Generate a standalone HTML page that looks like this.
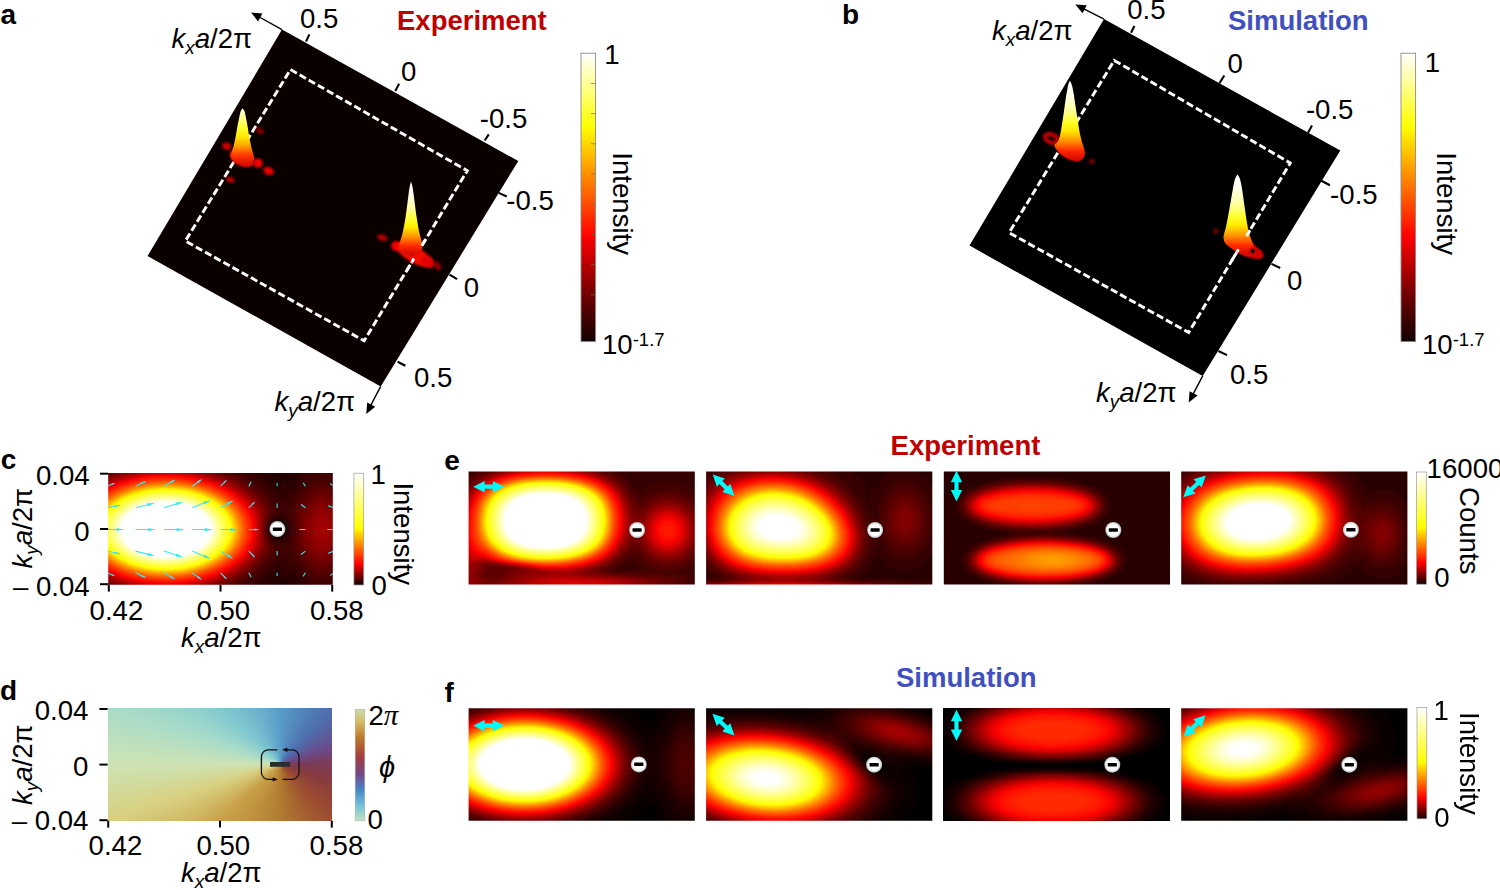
<!DOCTYPE html>
<html lang="en"><head><meta charset="utf-8"><title>Figure</title>
<style>html,body{margin:0;padding:0;background:#fff;}svg{display:block;}text{font-family:"Liberation Sans", Arial, sans-serif;}</style>
</head><body>
<div id="fig" style="position:relative;width:1500px;height:890px;overflow:hidden;background:#fff">
<div id="phase" style="position:absolute;left:107.6px;top:708.4px;width:224.8px;height:112.4px;background-color:#c9c596;background-image:conic-gradient(from 0deg at 172.6px 55.9px,#589cc8 0deg,#4d6fae 43deg,#6a4a88 72deg,#7b3a58 90deg,#8a3c3c 112deg,#9c4c30 137deg,#b07c30 180deg,#c8a048 227deg,#d8d080 252deg,#cde3b4 270deg,#a9dcc8 288deg,#80c8d0 313deg,#589cc8 360deg)"></div>
<svg width="1500" height="890" viewBox="0 0 1500 890" style="position:absolute;left:0;top:0">
<defs>
<filter id="hot2" x="0" y="0" width="1" height="1" color-interpolation-filters="sRGB">
<feComponentTransfer>
<feFuncR type="table" tableValues="0.000 0.164 0.329 0.493 0.658 0.822 0.987 1.000 1.000 1.000 1.000 1.000 1.000 1.000 1.000 1.000 1.000 1.000 1.000 1.000 1.000 1.000 1.000 1.000 1.000 1.000 1.000 1.000 1.000 1.000 1.000 1.000 1.000 1.000 1.000 1.000 1.000 1.000 1.000 1.000 1.000 1.000 1.000 1.000 1.000 1.000 1.000 1.000 1.000 1.000 1.000 1.000 1.000 1.000 1.000 1.000 1.000 1.000 1.000 1.000 1.000 1.000 1.000 1.000 1.000"/>
<feFuncG type="table" tableValues="0.000 0.000 0.000 0.000 0.000 0.000 0.000 0.090 0.188 0.285 0.383 0.480 0.578 0.676 0.773 0.871 0.969 1.000 1.000 1.000 1.000 1.000 1.000 1.000 1.000 1.000 1.000 1.000 1.000 1.000 1.000 1.000 1.000 1.000 1.000 1.000 1.000 1.000 1.000 1.000 1.000 1.000 1.000 1.000 1.000 1.000 1.000 1.000 1.000 1.000 1.000 1.000 1.000 1.000 1.000 1.000 1.000 1.000 1.000 1.000 1.000 1.000 1.000 1.000 1.000"/>
<feFuncB type="table" tableValues="0.000 0.000 0.000 0.000 0.000 0.000 0.000 0.000 0.000 0.000 0.000 0.000 0.000 0.000 0.000 0.000 0.000 0.043 0.107 0.171 0.235 0.298 0.362 0.426 0.490 0.554 0.617 0.681 0.745 0.809 0.872 0.936 1.000 1.000 1.000 1.000 1.000 1.000 1.000 1.000 1.000 1.000 1.000 1.000 1.000 1.000 1.000 1.000 1.000 1.000 1.000 1.000 1.000 1.000 1.000 1.000 1.000 1.000 1.000 1.000 1.000 1.000 1.000 1.000 1.000"/>
</feComponentTransfer></filter>
<filter id="hot2b" x="0" y="0" width="1" height="1" color-interpolation-filters="sRGB">
<feGaussianBlur stdDeviation="1.2"/>
<feComponentTransfer>
<feFuncR type="table" tableValues="0.000 0.164 0.329 0.493 0.658 0.822 0.987 1.000 1.000 1.000 1.000 1.000 1.000 1.000 1.000 1.000 1.000 1.000 1.000 1.000 1.000 1.000 1.000 1.000 1.000 1.000 1.000 1.000 1.000 1.000 1.000 1.000 1.000 1.000 1.000 1.000 1.000 1.000 1.000 1.000 1.000 1.000 1.000 1.000 1.000 1.000 1.000 1.000 1.000 1.000 1.000 1.000 1.000 1.000 1.000 1.000 1.000 1.000 1.000 1.000 1.000 1.000 1.000 1.000 1.000"/>
<feFuncG type="table" tableValues="0.000 0.000 0.000 0.000 0.000 0.000 0.000 0.090 0.188 0.285 0.383 0.480 0.578 0.676 0.773 0.871 0.969 1.000 1.000 1.000 1.000 1.000 1.000 1.000 1.000 1.000 1.000 1.000 1.000 1.000 1.000 1.000 1.000 1.000 1.000 1.000 1.000 1.000 1.000 1.000 1.000 1.000 1.000 1.000 1.000 1.000 1.000 1.000 1.000 1.000 1.000 1.000 1.000 1.000 1.000 1.000 1.000 1.000 1.000 1.000 1.000 1.000 1.000 1.000 1.000"/>
<feFuncB type="table" tableValues="0.000 0.000 0.000 0.000 0.000 0.000 0.000 0.000 0.000 0.000 0.000 0.000 0.000 0.000 0.000 0.000 0.000 0.043 0.107 0.171 0.235 0.298 0.362 0.426 0.490 0.554 0.617 0.681 0.745 0.809 0.872 0.936 1.000 1.000 1.000 1.000 1.000 1.000 1.000 1.000 1.000 1.000 1.000 1.000 1.000 1.000 1.000 1.000 1.000 1.000 1.000 1.000 1.000 1.000 1.000 1.000 1.000 1.000 1.000 1.000 1.000 1.000 1.000 1.000 1.000"/>
</feComponentTransfer></filter>
<linearGradient id="cbHot" x1="0" y1="0" x2="0" y2="1"><stop offset="0" stop-color="#ffffff"/><stop offset="0.254" stop-color="#ffff00"/><stop offset="0.635" stop-color="#ff0000"/><stop offset="0.85" stop-color="#6a0000"/><stop offset="1" stop-color="#120000"/></linearGradient>
<linearGradient id="cbHot2" x1="0" y1="0" x2="0" y2="1"><stop offset="0" stop-color="#ffffff"/><stop offset="0.49" stop-color="#ffff00"/><stop offset="0.81" stop-color="#ff0000"/><stop offset="1" stop-color="#140000"/></linearGradient>
<linearGradient id="cbPhase" x1="0" y1="0" x2="0" y2="1"><stop offset="0" stop-color="#c9dcaa"/><stop offset="0.10" stop-color="#d8bf6c"/><stop offset="0.25" stop-color="#bd7a2c"/><stop offset="0.42" stop-color="#a2403c"/><stop offset="0.58" stop-color="#75478a"/><stop offset="0.72" stop-color="#4685c4"/><stop offset="0.86" stop-color="#6fc0dc"/><stop offset="1" stop-color="#c4e4c0"/></linearGradient>
<linearGradient id="pk" x1="0" y1="0" x2="0" y2="1"><stop offset="0" stop-color="#ffffff"/><stop offset="0.16" stop-color="#fffff0"/><stop offset="0.36" stop-color="#ffffa0"/><stop offset="0.52" stop-color="#ffff28"/><stop offset="0.62" stop-color="#ffea00"/><stop offset="0.75" stop-color="#ff9000"/><stop offset="0.87" stop-color="#ff2800"/><stop offset="1" stop-color="#cc0400"/></linearGradient>
<linearGradient id="pk1" x1="0" y1="0" x2="0" y2="1"><stop offset="0" stop-color="#ffffd8"/><stop offset="0.15" stop-color="#ffff98"/><stop offset="0.33" stop-color="#ffff38"/><stop offset="0.5" stop-color="#ffe800"/><stop offset="0.66" stop-color="#ffa000"/><stop offset="0.82" stop-color="#ff3800"/><stop offset="1" stop-color="#d80800"/></linearGradient>
<radialGradient id="redglow"><stop offset="0" stop-color="#ff1800" stop-opacity="1"/><stop offset="0.6" stop-color="#e00000" stop-opacity="0.9"/><stop offset="1" stop-color="#700000" stop-opacity="0"/></radialGradient>
<radialGradient id="vm" cx="0.5" cy="0.5" r="0.5"><stop offset="0" stop-color="#fff"/><stop offset="0.7" stop-color="#fff"/><stop offset="0.86" stop-color="#d4dede"/><stop offset="1" stop-color="#b0b8b8"/></radialGradient>
<filter id="bl1" x="-0.5" y="-0.5" width="2" height="2"><feGaussianBlur stdDeviation="1"/></filter>
<filter id="bl2" x="-0.5" y="-0.5" width="2" height="2"><feGaussianBlur stdDeviation="1.8"/></filter>
<filter id="bl05" x="-0.2" y="-0.2" width="1.4" height="1.4"><feGaussianBlur stdDeviation="0.45"/></filter>
</defs>
<g id="panel-a">
<text x="0.5" y="24.3" font-size="28" font-weight="bold">a</text>
<polygon points="282.0,29.6 518.3,161.0 380.7,386.4 147.5,256.1" fill="#0b0000"/>
<line x1="282.0" y1="29.6" x2="258.4" y2="16.5" stroke="#000" stroke-width="1.4"/>
<polygon points="251.0,12.4 262.4,13.6 258.0,21.4" fill="#000"/>
<line x1="380.7" y1="386.4" x2="370.2" y2="406.4" stroke="#000" stroke-width="1.4"/>
<polygon points="366.3,413.9 367.2,402.5 375.2,406.7" fill="#000"/>
<polygon points="290.5,69.6 467.3,170.7 364.1,340.8 185.3,241" fill="none" stroke="#fff" stroke-width="2.9" stroke-dasharray="7.3 3.2"/>
<g id="peaks-a">
<ellipse cx="226.6" cy="146.2" rx="4.6" ry="3.6" fill="#d80000" opacity="0.95" transform="rotate(20 226.6 146.2)" filter="url(#bl1)"/>
<ellipse cx="260.0" cy="130.8" rx="4.2" ry="2.8" fill="#900000" opacity="0.9" transform="rotate(25 260.0 130.8)" filter="url(#bl1)"/>
<ellipse cx="258.0" cy="163.2" rx="4.6" ry="4.6" fill="#f00000" opacity="1" transform="rotate(0 258.0 163.2)" filter="url(#bl1)"/>
<ellipse cx="268.6" cy="171.0" rx="5.4" ry="4.0" fill="#e00000" opacity="1" transform="rotate(20 268.6 171.0)" filter="url(#bl1)"/>
<ellipse cx="230.3" cy="179.8" rx="4.4" ry="2.8" fill="#c00000" opacity="0.95" transform="rotate(20 230.3 179.8)" filter="url(#bl1)"/>
<ellipse cx="242.0" cy="158.0" rx="13.0" ry="8.0" fill="#f01000" opacity="1" transform="rotate(25 242.0 158.0)" filter="url(#bl1)"/>
<path d="M242.6,108.3 C242.9,108.8 244.0,110.1 244.5,111.3 C245.0,112.5 245.2,114.0 245.5,115.5 C245.8,117.0 246.2,118.7 246.5,120.5 C246.8,122.3 247.2,124.3 247.6,126.5 C248.0,128.7 248.3,131.2 248.7,133.5 C249.1,135.8 249.4,138.2 249.9,140.5 C250.4,142.8 250.9,145.5 251.4,147.5 C251.9,149.5 252.4,150.5 252.8,152.5 C253.2,154.5 254.9,157.4 253.8,159.5 C252.8,161.6 249.2,164.5 246.5,165.2 C243.8,165.9 240.1,164.8 237.5,163.5 C234.9,162.2 232.0,159.3 231.0,157.5 C230.0,155.7 231.2,154.2 231.6,152.5 C232.0,150.8 232.6,149.5 233.2,147.5 C233.8,145.5 234.4,142.8 234.9,140.5 C235.4,138.2 235.8,135.8 236.2,133.5 C236.6,131.2 237.0,128.7 237.4,126.5 C237.8,124.3 238.2,122.3 238.6,120.5 C239.0,118.7 239.2,117.0 239.6,115.5 C239.9,114.0 240.2,112.5 240.7,111.3 C241.2,110.1 242.3,108.8 242.6,108.3Z" fill="url(#pk1)" filter="url(#bl05)"/>
<ellipse cx="382.3" cy="237.7" rx="5.2" ry="3.2" fill="#c00000" opacity="0.9" transform="rotate(20 382.3 237.7)" filter="url(#bl1)"/>
<ellipse cx="396.0" cy="246.0" rx="5.0" ry="5.0" fill="#e80000" opacity="1" transform="rotate(0 396.0 246.0)" filter="url(#bl1)"/>
<ellipse cx="414.0" cy="254.5" rx="21.0" ry="8.0" fill="#f00800" opacity="1" transform="rotate(30 414.0 254.5)" filter="url(#bl1)"/>
<ellipse cx="428.0" cy="262.0" rx="7.0" ry="5.0" fill="#e00000" opacity="1" transform="rotate(35 428.0 262.0)" filter="url(#bl1)"/>
<ellipse cx="437.5" cy="266.0" rx="3.0" ry="4.5" fill="#a00000" opacity="0.9" transform="rotate(-20 437.5 266.0)" filter="url(#bl1)"/>
<path d="M411.0,181.4 C411.2,182.2 411.8,183.4 412.3,186.0 C412.8,188.6 413.3,192.0 414.0,197.2 C414.7,202.4 415.7,211.2 416.6,217.0 C417.5,222.8 418.3,227.7 419.2,232.0 C420.1,236.3 421.6,240.1 422.0,243.0 C422.4,245.9 423.0,247.4 421.6,249.5 C420.2,251.6 416.4,254.8 413.5,255.5 C410.6,256.2 406.9,254.8 404.5,253.5 C402.1,252.2 399.3,251.6 399.0,248.0 C398.7,244.4 401.7,237.2 402.8,232.0 C403.9,226.8 404.7,222.8 405.6,217.0 C406.5,211.2 407.5,202.4 408.2,197.2 C408.9,192.0 409.3,188.6 409.8,186.0 C410.3,183.4 410.8,182.2 411.0,181.4Z" fill="url(#pk)" filter="url(#bl05)"/>
<line x1="421.8" y1="245.7" x2="425.5" y2="239.5" stroke="#fff" stroke-width="2.9"/>
<line x1="406.5" y1="271" x2="414" y2="258.5" stroke="#fff" stroke-width="2.9" stroke-dasharray="7.3 3.2"/>
</g>
<line x1="306.0" y1="41.6" x2="309.4" y2="34.4" stroke="#000" stroke-width="2.1"/>
<line x1="395.3" y1="91.0" x2="399.1" y2="83.8" stroke="#000" stroke-width="2.1"/>
<line x1="484.7" y1="140.5" x2="488.8" y2="134.4" stroke="#000" stroke-width="2.1"/>
<line x1="498.7" y1="192.9" x2="506.8" y2="196.5" stroke="#000" stroke-width="2.1"/>
<line x1="449.5" y1="274.6" x2="457.1" y2="279.1" stroke="#000" stroke-width="2.1"/>
<line x1="397.6" y1="361.7" x2="405.4" y2="365.7" stroke="#000" stroke-width="2.1"/>
<text x="300.0" y="28.4" font-size="27.6">0.5</text>
<text x="401.0" y="81.1" font-size="27.6">0</text>
<text x="479.8" y="128.0" font-size="27.6">-0.5</text>
<text x="506.2" y="210.0" font-size="27.6">-0.5</text>
<text x="463.8" y="296.6" font-size="27.6">0</text>
<text x="414.0" y="387.2" font-size="27.6">0.5</text>
<text x="171.5" y="48.0" font-size="27.6"><tspan font-style="italic">k</tspan><tspan font-style="italic" font-size="18.8" dy="6.1">x</tspan><tspan font-style="italic" dy="-6.1">a</tspan>/2π</text>
<text x="274.5" y="411.0" font-size="27.6"><tspan font-style="italic">k</tspan><tspan font-style="italic" font-size="18.8" dy="6.1">y</tspan><tspan font-style="italic" dy="-6.1">a</tspan>/2π</text>
<text x="397.0" y="30.0" font-size="27.5" font-weight="bold" fill="#c00000">Experiment</text>
<rect x="581" y="53.2" width="14.6" height="288.4" fill="url(#cbHot)" stroke="#8a8a8a" stroke-width="0.9"/>
<line x1="591.0" y1="83.4" x2="595.6" y2="83.4" stroke="#7a6a40" stroke-width="0.7"/>
<line x1="591.0" y1="113.6" x2="595.6" y2="113.6" stroke="#7a6a40" stroke-width="0.7"/>
<line x1="591.0" y1="143.8" x2="595.6" y2="143.8" stroke="#7a6a40" stroke-width="0.7"/>
<line x1="591.0" y1="174.0" x2="595.6" y2="174.0" stroke="#7a6a40" stroke-width="0.7"/>
<line x1="591.0" y1="204.2" x2="595.6" y2="204.2" stroke="#7a6a40" stroke-width="0.7"/>
<line x1="591.0" y1="234.4" x2="595.6" y2="234.4" stroke="#7a6a40" stroke-width="0.7"/>
<line x1="591.0" y1="264.6" x2="595.6" y2="264.6" stroke="#7a6a40" stroke-width="0.7"/>
<line x1="591.0" y1="294.8" x2="595.6" y2="294.8" stroke="#7a6a40" stroke-width="0.7"/>
<text x="604.3" y="64.0" font-size="27.6">1</text>
<text x="602" y="354" font-size="27.6">10<tspan font-size="18.5" dy="-8">-1.7</tspan></text>
<text transform="translate(613.4,152.3) rotate(90)" font-size="27.6">Intensity</text>
</g>
<g id="panel-b">
<text x="842.0" y="24.3" font-size="28" font-weight="bold">b</text>
<polygon points="1104.0,19.1 1340.3,150.5 1202.7,375.9 969.5,245.6" fill="#000000"/>
<line x1="1104.0" y1="19.1" x2="1082.9" y2="8.4" stroke="#000" stroke-width="1.4"/>
<polygon points="1075.3,4.5 1086.7,5.2 1082.6,13.3" fill="#000"/>
<line x1="1202.7" y1="375.9" x2="1192.6" y2="395.1" stroke="#000" stroke-width="1.4"/>
<polygon points="1188.7,402.6 1189.6,391.2 1197.6,395.4" fill="#000"/>
<polygon points="1114.2,60.4 1290.2,163 1188.7,332.5 1009.1,232.7" fill="none" stroke="#fff" stroke-width="2.9" stroke-dasharray="7.3 3.2"/>
<g id="peaks-b">
<ellipse cx="1051.4" cy="138.6" rx="6.8" ry="4" fill="none" stroke="#c40000" stroke-width="4.2" transform="rotate(24 1051.4 138.6)" filter="url(#bl1)"/>
<ellipse cx="1091.8" cy="161.5" rx="2.8" ry="2.8" fill="#800000" opacity="0.95" transform="rotate(0 1091.8 161.5)" filter="url(#bl1)"/>
<ellipse cx="1070.0" cy="151.0" rx="14.0" ry="8.0" fill="#f00800" opacity="1" transform="rotate(28 1070.0 151.0)" filter="url(#bl1)"/>
<path d="M1069.9,80.8 C1070.2,81.3 1071.0,82.7 1071.5,84.1 C1072.0,85.5 1072.4,87.3 1072.8,89.1 C1073.2,90.9 1073.5,92.8 1073.9,95.1 C1074.3,97.4 1074.6,100.1 1075.1,103.1 C1075.5,106.1 1076.1,109.8 1076.6,113.1 C1077.1,116.4 1077.6,119.8 1078.1,123.1 C1078.6,126.4 1079.2,130.0 1079.8,133.1 C1080.4,136.2 1081.1,138.6 1081.9,141.7 C1082.7,144.8 1084.5,148.9 1084.8,151.6 C1085.1,154.3 1084.7,156.2 1083.6,157.8 C1082.5,159.4 1080.5,160.9 1078.2,161.2 C1075.9,161.4 1072.5,160.5 1069.6,159.3 C1066.7,158.1 1063.4,156.3 1060.9,154.1 C1058.4,151.9 1055.0,148.2 1054.5,146.0 C1054.0,143.8 1057.2,143.2 1058.2,141.1 C1059.2,138.9 1059.8,136.1 1060.5,133.1 C1061.2,130.1 1061.7,126.4 1062.2,123.1 C1062.7,119.8 1063.2,116.4 1063.7,113.1 C1064.2,109.8 1064.7,106.1 1065.1,103.1 C1065.5,100.1 1065.9,97.4 1066.3,95.1 C1066.7,92.8 1067.1,90.9 1067.4,89.1 C1067.8,87.3 1068.0,85.5 1068.4,84.1 C1068.8,82.7 1069.7,81.3 1069.9,80.8Z" fill="url(#pk)" filter="url(#bl05)"/>
<ellipse cx="1215.8" cy="231.1" rx="2.8" ry="2.8" fill="#700000" opacity="0.95" transform="rotate(0 1215.8 231.1)" filter="url(#bl1)"/>
<ellipse cx="1244.0" cy="247.0" rx="19.0" ry="7.5" fill="#e80400" opacity="1" transform="rotate(30 1244.0 247.0)" filter="url(#bl1)"/>
<path d="M1237.5,174.5 C1237.8,175.1 1238.9,176.4 1239.5,177.8 C1240.1,179.2 1240.5,181.0 1240.9,182.8 C1241.3,184.6 1241.6,186.5 1242.0,188.8 C1242.4,191.1 1242.8,193.8 1243.2,196.8 C1243.6,199.8 1244.1,203.5 1244.6,206.8 C1245.1,210.1 1245.5,213.5 1246.0,216.8 C1246.5,220.1 1247.1,223.7 1247.7,226.8 C1248.3,229.9 1248.8,232.3 1249.8,235.5 C1250.8,238.7 1252.5,242.9 1254.0,246.0 C1255.5,249.1 1260.2,252.3 1259.0,254.0 C1257.8,255.7 1251.1,256.9 1247.0,256.3 C1242.9,255.7 1238.2,252.5 1234.6,250.4 C1231.0,248.3 1227.3,245.6 1225.5,243.5 C1223.7,241.4 1223.9,239.4 1223.6,238.0 C1223.3,236.6 1223.5,236.7 1223.9,234.8 C1224.3,232.9 1225.3,229.8 1226.0,226.8 C1226.7,223.8 1227.4,220.1 1228.0,216.8 C1228.6,213.5 1229.2,210.1 1229.8,206.8 C1230.4,203.5 1231.0,199.8 1231.5,196.8 C1232.0,193.8 1232.5,191.1 1232.9,188.8 C1233.3,186.5 1233.6,184.6 1234.0,182.8 C1234.4,181.0 1234.9,179.2 1235.5,177.8 C1236.1,176.4 1237.2,175.1 1237.5,174.5Z" fill="url(#pk)" filter="url(#bl05)"/>
<ellipse cx="1256" cy="253" rx="8" ry="5" fill="#d00000" transform="rotate(30 1256 253)" filter="url(#bl05)"/>
<circle cx="1252.9" cy="251.2" r="2.1" fill="#100000"/>
<line x1="1246.5" y1="236" x2="1250" y2="230.2" stroke="#fff" stroke-width="2.9"/>
<line x1="1231.5" y1="261" x2="1238.5" y2="249.3" stroke="#fff" stroke-width="2.9" stroke-dasharray="7.3 3.2"/>
</g>
<line x1="1131.0" y1="32.8" x2="1134.4" y2="26.0" stroke="#000" stroke-width="2.1"/>
<line x1="1219.5" y1="83.1" x2="1224.3" y2="75.5" stroke="#000" stroke-width="2.1"/>
<line x1="1308.0" y1="132.7" x2="1312.0" y2="125.4" stroke="#000" stroke-width="2.1"/>
<line x1="1321.3" y1="180.8" x2="1329.9" y2="185.3" stroke="#000" stroke-width="2.1"/>
<line x1="1271.5" y1="263.9" x2="1280.2" y2="268.0" stroke="#000" stroke-width="2.1"/>
<line x1="1218.4" y1="351.0" x2="1227.0" y2="355.1" stroke="#000" stroke-width="2.1"/>
<text x="1127.2" y="18.9" font-size="27.6">0.5</text>
<text x="1227.5" y="72.8" font-size="27.6">0</text>
<text x="1305.9" y="119.2" font-size="27.6">-0.5</text>
<text x="1330.1" y="204.2" font-size="27.6">-0.5</text>
<text x="1286.9" y="289.6" font-size="27.6">0</text>
<text x="1230.0" y="384.0" font-size="27.6">0.5</text>
<text x="992.0" y="39.8" font-size="27.6"><tspan font-style="italic">k</tspan><tspan font-style="italic" font-size="18.8" dy="6.1">x</tspan><tspan font-style="italic" dy="-6.1">a</tspan>/2π</text>
<text x="1096.0" y="402.3" font-size="27.6"><tspan font-style="italic">k</tspan><tspan font-style="italic" font-size="18.8" dy="6.1">y</tspan><tspan font-style="italic" dy="-6.1">a</tspan>/2π</text>
<text x="1228.0" y="29.8" font-size="27.5" font-weight="bold" fill="#4050c0">Simulation</text>
<rect x="1401" y="53.2" width="14.6" height="288.4" fill="url(#cbHot)" stroke="#8a8a8a" stroke-width="0.9"/>
<text x="1424.8" y="72.0" font-size="27.6">1</text>
<text x="1422" y="354" font-size="27.6">10<tspan font-size="18.5" dy="-8">-1.7</tspan></text>
<text transform="translate(1437,152.3) rotate(90)" font-size="27.6">Intensity</text>
</g>
<g id="panel-c">
<text x="0.8" y="469.0" font-size="28" font-weight="bold">c</text>
<clipPath id="cpc"><rect x="108.2" y="473.1" width="224.6" height="111.7"/></clipPath>
<g clip-path="url(#cpc)"><g filter="url(#hot2)">
<rect x="105.2" y="470.1" width="230.6" height="117.7" fill="rgb(3,3,3)"/>
<ellipse cx="166.0" cy="529.5" rx="147.7" ry="90.2" fill="url(#g0)"/>
<ellipse cx="322.0" cy="529.5" rx="67.6" ry="119.6" fill="url(#g1)"/>
<ellipse cx="277.4" cy="529.3" rx="33.8" ry="33.8" fill="url(#g2)"/>
</g></g>
<line x1="100.0" y1="473.7" x2="108.2" y2="473.7" stroke="#000" stroke-width="2"/>
<line x1="100.0" y1="529.0" x2="108.2" y2="529.0" stroke="#000" stroke-width="2"/>
<line x1="100.0" y1="584.2" x2="108.2" y2="584.2" stroke="#000" stroke-width="2"/>
<line x1="108.8" y1="584.8" x2="108.8" y2="591.6" stroke="#000" stroke-width="2"/>
<line x1="220.5" y1="584.8" x2="220.5" y2="591.6" stroke="#000" stroke-width="2"/>
<line x1="332.2" y1="584.8" x2="332.2" y2="591.6" stroke="#000" stroke-width="2"/>
<clipPath id="cpq"><rect x="108.2" y="473.1" width="224.6" height="111.7"/></clipPath>
<g stroke="#3ce6f0" stroke-width="1.1" fill="#3ce6f0" clip-path="url(#cpq)">
<line x1="107.3" y1="486.2" x2="114.5" y2="483.2"/>
<polygon stroke="none" points="114.5,483.2 111.9,485.1 111.3,483.7"/>
<line x1="107.3" y1="507.8" x2="120.0" y2="505.2"/>
<polygon stroke="none" points="120.0,505.2 115.2,507.5 114.7,505.0"/>
<line x1="107.3" y1="529.5" x2="122.9" y2="529.5"/>
<polygon stroke="none" points="122.9,529.5 116.6,531.1 116.6,528.0"/>
<line x1="107.3" y1="551.1" x2="120.0" y2="553.9"/>
<polygon stroke="none" points="120.0,553.9 114.7,554.1 115.2,551.5"/>
<line x1="107.3" y1="572.8" x2="114.5" y2="575.8"/>
<polygon stroke="none" points="114.5,575.8 111.3,575.3 111.9,573.9"/>
<line x1="135.6" y1="486.2" x2="145.5" y2="481.4"/>
<polygon stroke="none" points="145.5,481.4 142.0,484.3 141.0,482.4"/>
<line x1="135.6" y1="507.8" x2="153.7" y2="503.3"/>
<polygon stroke="none" points="153.7,503.3 147.8,506.4 147.0,503.3"/>
<line x1="135.6" y1="529.5" x2="154.8" y2="529.5"/>
<polygon stroke="none" points="154.8,529.5 148.3,531.2 148.3,527.9"/>
<line x1="135.6" y1="551.1" x2="153.7" y2="555.8"/>
<polygon stroke="none" points="153.7,555.8 147.0,555.8 147.8,552.6"/>
<line x1="135.6" y1="572.8" x2="145.4" y2="577.6"/>
<polygon stroke="none" points="145.4,577.6 141.0,576.7 142.0,574.7"/>
<line x1="163.9" y1="486.2" x2="174.7" y2="480.0"/>
<polygon stroke="none" points="174.7,480.0 171.0,483.5 169.7,481.4"/>
<line x1="163.9" y1="507.8" x2="182.2" y2="502.1"/>
<polygon stroke="none" points="182.2,502.1 176.5,505.6 175.5,502.5"/>
<line x1="163.9" y1="529.5" x2="183.1" y2="529.6"/>
<polygon stroke="none" points="183.1,529.6 176.6,531.2 176.6,527.9"/>
<line x1="163.9" y1="551.1" x2="182.2" y2="557.0"/>
<polygon stroke="none" points="182.2,557.0 175.5,556.6 176.5,553.5"/>
<line x1="163.9" y1="572.8" x2="174.6" y2="579.1"/>
<polygon stroke="none" points="174.6,579.1 169.7,577.6 171.0,575.5"/>
<line x1="192.2" y1="486.2" x2="201.4" y2="479.6"/>
<polygon stroke="none" points="201.4,479.6 198.4,483.2 197.0,481.3"/>
<line x1="192.2" y1="507.8" x2="210.0" y2="500.6"/>
<polygon stroke="none" points="210.0,500.6 204.6,504.6 203.3,501.5"/>
<line x1="192.2" y1="529.5" x2="211.4" y2="529.6"/>
<polygon stroke="none" points="211.4,529.6 204.9,531.2 204.9,527.9"/>
<line x1="192.2" y1="551.1" x2="209.9" y2="558.5"/>
<polygon stroke="none" points="209.9,558.5 203.3,557.5 204.6,554.5"/>
<line x1="192.2" y1="572.8" x2="201.4" y2="579.4"/>
<polygon stroke="none" points="201.4,579.4 197.0,577.7 198.4,575.9"/>
<line x1="220.5" y1="486.2" x2="226.4" y2="480.3"/>
<polygon stroke="none" points="226.4,480.3 224.6,483.3 223.4,482.1"/>
<line x1="220.5" y1="507.8" x2="232.6" y2="500.9"/>
<polygon stroke="none" points="232.6,500.9 228.4,504.9 227.0,502.5"/>
<line x1="220.5" y1="529.5" x2="237.2" y2="529.6"/>
<polygon stroke="none" points="237.2,529.6 230.6,531.2 230.7,527.9"/>
<line x1="220.5" y1="551.1" x2="232.5" y2="558.2"/>
<polygon stroke="none" points="232.5,558.2 227.0,556.6 228.4,554.2"/>
<line x1="220.5" y1="572.8" x2="226.3" y2="578.7"/>
<polygon stroke="none" points="226.3,578.7 223.4,576.9 224.6,575.8"/>
<line x1="248.8" y1="486.2" x2="251.2" y2="481.7"/>
<line x1="248.8" y1="507.8" x2="254.6" y2="502.1"/>
<polygon stroke="none" points="254.6,502.1 252.8,505.0 251.7,503.8"/>
<line x1="248.8" y1="529.5" x2="258.4" y2="529.6"/>
<polygon stroke="none" points="258.4,529.6 254.6,530.5 254.6,528.6"/>
<line x1="248.8" y1="551.1" x2="254.5" y2="557.0"/>
<polygon stroke="none" points="254.5,557.0 251.7,555.2 252.8,554.1"/>
<line x1="248.8" y1="572.8" x2="251.2" y2="577.3"/>
<line x1="277.1" y1="486.2" x2="277.1" y2="483.1"/>
<line x1="277.1" y1="507.8" x2="277.1" y2="503.6"/>
<line x1="277.1" y1="551.1" x2="277.1" y2="555.4"/>
<line x1="277.1" y1="572.8" x2="277.1" y2="575.9"/>
<line x1="305.4" y1="486.2" x2="303.1" y2="482.7"/>
<line x1="305.4" y1="507.8" x2="301.1" y2="504.5"/>
<line x1="305.4" y1="529.5" x2="299.4" y2="529.5"/>
<polygon stroke="none" points="299.4,529.5 301.8,528.9 301.8,530.1"/>
<line x1="305.4" y1="551.1" x2="301.1" y2="554.5"/>
<line x1="305.4" y1="572.8" x2="303.1" y2="576.4"/>
<line x1="333.7" y1="486.2" x2="330.1" y2="483.5"/>
<line x1="333.7" y1="507.8" x2="328.3" y2="505.8"/>
<polygon stroke="none" points="328.3,505.8 330.6,506.1 330.2,507.2"/>
<line x1="333.7" y1="529.5" x2="327.3" y2="529.5"/>
<polygon stroke="none" points="327.3,529.5 329.9,528.9 329.9,530.1"/>
<line x1="333.7" y1="551.1" x2="328.3" y2="553.3"/>
<polygon stroke="none" points="328.3,553.3 330.2,551.9 330.7,553.0"/>
<line x1="333.7" y1="572.8" x2="330.1" y2="575.6"/>
</g>
<circle cx="277.4" cy="529.1" r="8.0" fill="url(#vm)"/>
<rect x="272.8" y="527.4" width="9.2" height="3.5" rx="0.6" fill="#000"/>
<text x="89.6" y="485.0" font-size="27.6" text-anchor="end">0.04</text>
<text x="89.6" y="541.0" font-size="27.6" text-anchor="end">0</text>
<text x="89.6" y="595.8" font-size="27.6" text-anchor="end">– 0.04</text>
<text x="89.6" y="620.3" font-size="27.6">0.42</text>
<text x="196.4" y="620.3" font-size="27.6">0.50</text>
<text x="310.0" y="620.3" font-size="27.6">0.58</text>
<text x="181.0" y="647.0" font-size="27.6"><tspan font-style="italic">k</tspan><tspan font-style="italic" font-size="18.8" dy="6.1">x</tspan><tspan font-style="italic" dy="-6.1">a</tspan>/2π</text>
<text x="0.0" y="0.0" font-size="27.6" transform="translate(32.3,568.5) rotate(-90)"><tspan font-style="italic">k</tspan><tspan font-style="italic" font-size="18.8" dy="6.1">y</tspan><tspan font-style="italic" dy="-6.1">a</tspan>/2π</text>
<rect x="353.9" y="473.2" width="9.8" height="111.8" fill="url(#cbHot2)" stroke="#9a9a9a" stroke-width="0.7"/>
<text x="370.6" y="483.6" font-size="27.6">1</text>
<text x="371.6" y="595.4" font-size="27.6">0</text>
<text transform="translate(393.6,482.4) rotate(90)" font-size="27.6">Intensity</text>
</g>
<g id="panel-d">
<text x="0.0" y="700.0" font-size="28" font-weight="bold">d</text>
<line x1="99.4" y1="709.0" x2="107.6" y2="709.0" stroke="#000" stroke-width="2"/>
<line x1="99.4" y1="764.6" x2="107.6" y2="764.6" stroke="#000" stroke-width="2"/>
<line x1="99.4" y1="820.2" x2="107.6" y2="820.2" stroke="#000" stroke-width="2"/>
<line x1="108.2" y1="820.8" x2="108.2" y2="827.6" stroke="#000" stroke-width="2"/>
<line x1="220.0" y1="820.8" x2="220.0" y2="827.6" stroke="#000" stroke-width="2"/>
<line x1="331.8" y1="820.8" x2="331.8" y2="827.6" stroke="#000" stroke-width="2"/>
<rect x="270" y="762" width="20.2" height="4.8" fill="#2c2c2c"/>
<g fill="none" stroke="#111" stroke-width="1.3">
<path d="M282.6,779.4 H292 a7,7 0 0 0 7,-7 V756.8 a7,7 0 0 0 -7,-7 H286"/>
<path d="M277.4,749.8 H268.4 a7,7 0 0 0 -7,7 V772.4 a7,7 0 0 0 7,7 H274"/>
</g>
<polygon points="282,749.8 287.4,747.6 287.4,752" fill="#111"/>
<polygon points="278,779.4 272.6,777.2 272.6,781.6" fill="#111"/>
<text x="88.4" y="719.6" font-size="27.6" text-anchor="end">0.04</text>
<text x="88.4" y="775.6" font-size="27.6" text-anchor="end">0</text>
<text x="88.4" y="830.3" font-size="27.6" text-anchor="end">– 0.04</text>
<text x="88.6" y="855.2" font-size="27.6">0.42</text>
<text x="196.4" y="855.2" font-size="27.6">0.50</text>
<text x="309.6" y="855.2" font-size="27.6">0.58</text>
<text x="181.0" y="882.0" font-size="27.6"><tspan font-style="italic">k</tspan><tspan font-style="italic" font-size="18.8" dy="6.1">x</tspan><tspan font-style="italic" dy="-6.1">a</tspan>/2π</text>
<text x="0.0" y="0.0" font-size="27.6" transform="translate(32.0,805.0) rotate(-90)"><tspan font-style="italic">k</tspan><tspan font-style="italic" font-size="18.8" dy="6.1">y</tspan><tspan font-style="italic" dy="-6.1">a</tspan>/2π</text>
<rect x="355.2" y="709.6" width="9.6" height="111.2" fill="url(#cbPhase)" stroke="#aab0a0" stroke-width="0.6"/>
<text x="368.4" y="725.3" font-size="27.6">2<tspan font-family='"Liberation Serif", "DejaVu Serif", serif' font-style="italic" font-size="29">π</tspan></text>
<text x="379" y="776.5" font-size="29" font-family='"Liberation Serif", "DejaVu Serif", serif' font-style="italic">ϕ</text>
<text x="367.6" y="828.7" font-size="27.6">0</text>
</g>
<g id="panel-e">
<text x="444.2" y="469.6" font-size="28" font-weight="bold">e</text>
<text x="890.6" y="454.8" font-size="27.5" font-weight="bold" fill="#c00000">Experiment</text>
<clipPath id="cpe1"><rect x="468.6" y="471.5" width="226.2" height="113.0"/></clipPath>
<g clip-path="url(#cpe1)"><g filter="url(#hot2b)">
<rect x="465.6" y="468.5" width="232.2" height="119.0" fill="rgb(5,5,5)"/>
<g filter="url(#bf0)"><rect x="496.5" y="488.5" width="98.0" height="64.0" rx="20.0" fill="#fff"/></g>
<ellipse cx="668.0" cy="530.5" rx="65.0" ry="67.6" fill="url(#g3)"/>
<ellipse cx="575.0" cy="583.0" rx="208.0" ry="20.8" fill="url(#g4)"/>
<ellipse cx="470.0" cy="560.0" rx="36.4" ry="78.0" fill="url(#g5)"/>
<ellipse cx="512.0" cy="567.0" rx="83.2" ry="11.7" fill="url(#g6)" transform="rotate(5 512.0 567.0)"/>
</g></g>
<clipPath id="cpe2"><rect x="706.1" y="471.5" width="226.2" height="113.0"/></clipPath>
<g clip-path="url(#cpe2)"><g filter="url(#hot2b)">
<rect x="703.1" y="468.5" width="232.2" height="119.0" fill="rgb(4,4,4)"/>
<g filter="url(#bf1)"><path d="M731.0,527.8 C731.5,522.1 732.7,514.6 737.0,509.8 C741.3,505.0 749.0,500.9 757.0,499.0 C765.0,497.1 776.8,497.1 785.0,498.1 C793.2,499.2 799.8,501.9 806.0,505.3 C812.2,508.8 817.7,514.0 822.0,518.8 C826.3,523.6 830.2,529.3 832.0,534.1 C833.8,538.9 835.0,544.4 833.0,547.6 C831.0,550.8 834.2,552.5 820.0,553.5 C805.8,554.5 762.3,555.1 748.0,553.5 C733.7,551.9 736.8,548.3 734.0,544.0 C731.2,539.7 730.5,533.5 731.0,527.8Z" fill="#fff"/></g>
<ellipse cx="782.0" cy="589.0" rx="260.0" ry="16.9" fill="url(#g7)"/>
<ellipse cx="765.0" cy="496.0" rx="161.2" ry="67.6" fill="url(#g8)"/>
<ellipse cx="905.0" cy="520.0" rx="57.2" ry="83.2" fill="url(#g9)"/>
</g></g>
<clipPath id="cpe3"><rect x="943.8" y="471.5" width="226.2" height="113.0"/></clipPath>
<g clip-path="url(#cpe3)"><g filter="url(#hot2b)">
<rect x="940.8" y="468.5" width="232.2" height="119.0" fill="rgb(4,4,4)"/>
<g filter="url(#bf2)"><ellipse cx="1033.0" cy="505.5" rx="64.0" ry="17.5" fill="#fff"/></g>
<g filter="url(#bf3)"><ellipse cx="1044.0" cy="560.3" rx="68.0" ry="18.0" fill="#fff"/></g>
<ellipse cx="1052.0" cy="560.0" rx="93.6" ry="28.6" fill="url(#g1)"/>
</g></g>
<clipPath id="cpe4"><rect x="1181.2" y="471.5" width="226.2" height="113.0"/></clipPath>
<g clip-path="url(#cpe4)"><g filter="url(#hot2b)">
<rect x="1178.2" y="468.5" width="232.2" height="119.0" fill="rgb(4,4,4)"/>
<g filter="url(#bf4)"><rect x="1210.5" y="501.5" width="95.0" height="40.0" rx="4.0" fill="#fff" transform="rotate(-4 1258.0 521.5)"/></g>
<ellipse cx="1382.0" cy="534.0" rx="54.6" ry="72.8" fill="url(#g9)"/>
</g></g>
<circle cx="637.1" cy="530.0" r="8.0" fill="url(#vm)"/>
<rect x="632.5" y="528.2" width="9.2" height="3.5" rx="0.6" fill="#000"/>
<circle cx="875.1" cy="530.0" r="8.0" fill="url(#vm)"/>
<rect x="870.5" y="528.2" width="9.2" height="3.5" rx="0.6" fill="#000"/>
<circle cx="1113.3" cy="530.0" r="8.0" fill="url(#vm)"/>
<rect x="1108.7" y="528.2" width="9.2" height="3.5" rx="0.6" fill="#000"/>
<circle cx="1350.9" cy="529.8" r="8.0" fill="url(#vm)"/>
<rect x="1346.3" y="528.0" width="9.2" height="3.5" rx="0.6" fill="#000"/>
<polygon points="473.2,486.7 484.7,492.4 484.7,488.8 492.9,488.8 492.9,492.4 504.4,486.7 492.9,480.9 492.9,484.6 484.7,484.6 484.7,480.9" fill="#00fafa"/>
<polygon points="712.7,474.5 716.9,486.7 719.4,484.1 724.8,489.4 722.3,492.0 734.5,496.0 730.3,483.8 727.8,486.4 722.4,481.1 724.9,478.5" fill="#00fafa"/>
<polygon points="956.5,470.8 950.8,482.3 954.4,482.3 954.4,490.1 950.8,490.1 956.5,501.6 962.2,490.1 958.6,490.1 958.6,482.3 962.2,482.3" fill="#00fafa"/>
<polygon points="1183.3,497.3 1195.6,493.5 1193.0,490.8 1199.1,485.0 1201.6,487.6 1205.9,475.5 1193.6,479.3 1196.2,482.0 1190.1,487.8 1187.6,485.2" fill="#00fafa"/>
<rect x="1416.5" y="472" width="9.8" height="112.2" fill="url(#cbHot2)" stroke="#9a9a9a" stroke-width="0.7"/>
<text x="1426.6" y="477.9" font-size="27.6">16000</text>
<text x="1434.2" y="587.4" font-size="27.6">0</text>
<text transform="translate(1460.2,487) rotate(90)" font-size="27.6">Counts</text>
</g>
<g id="panel-f">
<text x="444.6" y="702.0" font-size="28" font-weight="bold">f</text>
<text x="896.0" y="687.0" font-size="27.5" font-weight="bold" fill="#4050c0">Simulation</text>
<clipPath id="cpf1"><rect x="468.6" y="708.2" width="226.2" height="112.6"/></clipPath>
<g clip-path="url(#cpf1)"><g filter="url(#hot2)">
<rect x="465.6" y="705.2" width="232.2" height="118.6" fill="rgb(0,0,0)"/>
<ellipse cx="524.6" cy="764.3" rx="150.3" ry="84.8" fill="url(#g10)"/>
<ellipse cx="686.0" cy="764.0" rx="62.4" ry="130.0" fill="url(#g11)"/>
</g></g>
<clipPath id="cpf2"><rect x="706.1" y="708.2" width="226.2" height="112.6"/></clipPath>
<g clip-path="url(#cpf2)"><g filter="url(#hot2)">
<rect x="703.1" y="705.2" width="232.2" height="118.6" fill="rgb(0,0,0)"/>
<ellipse cx="766.0" cy="778.0" rx="169.5" ry="82.7" fill="url(#g12)" transform="rotate(5 766.0 778.0)"/>
<ellipse cx="897.3" cy="732.0" rx="135.2" ry="44.2" fill="url(#g13)" transform="rotate(14 897.3 732.0)"/>
<ellipse cx="874.0" cy="764.7" rx="78.0" ry="28.6" fill="url(#g14)" transform="rotate(38 874.0 764.7)"/>
</g></g>
<clipPath id="cpf3"><rect x="943.8" y="708.2" width="226.2" height="112.6"/></clipPath>
<g clip-path="url(#cpf3)"><g filter="url(#hot2)">
<rect x="940.8" y="705.2" width="232.2" height="118.6" fill="rgb(0,0,0)"/>
<g filter="url(#bf5)"><ellipse cx="1053.0" cy="730.2" rx="78.0" ry="25.5" fill="#fff"/></g>
<g filter="url(#bf5)"><ellipse cx="1053.0" cy="801.8" rx="78.0" ry="25.5" fill="#fff"/></g>
<ellipse cx="1053.0" cy="766.0" rx="338.0" ry="14.3" fill="url(#g14)"/>
</g></g>
<clipPath id="cpf4"><rect x="1181.2" y="708.2" width="226.2" height="112.6"/></clipPath>
<g clip-path="url(#cpf4)"><g filter="url(#hot2)">
<rect x="1178.2" y="705.2" width="232.2" height="118.6" fill="rgb(0,0,0)"/>
<ellipse cx="1243.0" cy="749.0" rx="170.3" ry="82.7" fill="url(#g12)" transform="rotate(-5 1243.0 749.0)"/>
<ellipse cx="1379.0" cy="791.0" rx="135.2" ry="44.2" fill="url(#g15)" transform="rotate(-14 1379.0 791.0)"/>
<ellipse cx="1349.3" cy="764.7" rx="78.0" ry="28.6" fill="url(#g14)" transform="rotate(-38 1349.3 764.7)"/>
</g></g>
<circle cx="638.8" cy="764.4" r="8.0" fill="url(#vm)"/>
<rect x="634.2" y="762.6" width="9.2" height="3.5" rx="0.6" fill="#000"/>
<circle cx="874.1" cy="764.7" r="8.0" fill="url(#vm)"/>
<rect x="869.5" y="763.0" width="9.2" height="3.5" rx="0.6" fill="#000"/>
<circle cx="1112.3" cy="764.7" r="8.0" fill="url(#vm)"/>
<rect x="1107.7" y="763.0" width="9.2" height="3.5" rx="0.6" fill="#000"/>
<circle cx="1349.3" cy="764.7" r="8.0" fill="url(#vm)"/>
<rect x="1344.7" y="763.0" width="9.2" height="3.5" rx="0.6" fill="#000"/>
<polygon points="473.2,725.6 484.7,731.4 484.7,727.7 492.9,727.7 492.9,731.4 504.4,725.6 492.9,719.9 492.9,723.5 484.7,723.5 484.7,719.9" fill="#00fafa"/>
<polygon points="712.5,713.8 716.7,726.0 719.2,723.4 724.8,728.8 722.3,731.4 734.5,735.4 730.3,723.2 727.8,725.8 722.2,720.4 724.7,717.8" fill="#00fafa"/>
<polygon points="956.5,709.8 950.8,721.3 954.4,721.3 954.4,729.4 950.8,729.4 956.5,740.9 962.2,729.4 958.6,729.4 958.6,721.3 962.2,721.3" fill="#00fafa"/>
<polygon points="1183.6,736.8 1195.8,732.8 1193.3,730.2 1198.9,724.8 1201.4,727.4 1205.6,715.2 1193.4,719.2 1195.9,721.8 1190.3,727.2 1187.8,724.6" fill="#00fafa"/>
<rect x="1417" y="707.6" width="9.8" height="111.2" fill="url(#cbHot2)" stroke="#9a9a9a" stroke-width="0.7"/>
<text x="1433.4" y="720.0" font-size="27.6">1</text>
<text x="1434.2" y="827.4" font-size="27.6">0</text>
<text transform="translate(1460.4,712) rotate(90)" font-size="27.6">Intensity</text>
</g>
<defs><radialGradient id="g0"><stop offset="0.000" stop-color="#fff" stop-opacity="0.925"/><stop offset="0.033" stop-color="#fff" stop-opacity="0.918"/><stop offset="0.067" stop-color="#fff" stop-opacity="0.898"/><stop offset="0.100" stop-color="#fff" stop-opacity="0.865"/><stop offset="0.133" stop-color="#fff" stop-opacity="0.820"/><stop offset="0.167" stop-color="#fff" stop-opacity="0.767"/><stop offset="0.200" stop-color="#fff" stop-opacity="0.706"/><stop offset="0.233" stop-color="#fff" stop-opacity="0.640"/><stop offset="0.267" stop-color="#fff" stop-opacity="0.572"/><stop offset="0.300" stop-color="#fff" stop-opacity="0.503"/><stop offset="0.333" stop-color="#fff" stop-opacity="0.436"/><stop offset="0.367" stop-color="#fff" stop-opacity="0.373"/><stop offset="0.400" stop-color="#fff" stop-opacity="0.314"/><stop offset="0.433" stop-color="#fff" stop-opacity="0.260"/><stop offset="0.467" stop-color="#fff" stop-opacity="0.212"/><stop offset="0.500" stop-color="#fff" stop-opacity="0.171"/><stop offset="0.533" stop-color="#fff" stop-opacity="0.135"/><stop offset="0.567" stop-color="#fff" stop-opacity="0.106"/><stop offset="0.600" stop-color="#fff" stop-opacity="0.081"/><stop offset="0.633" stop-color="#fff" stop-opacity="0.061"/><stop offset="0.667" stop-color="#fff" stop-opacity="0.046"/><stop offset="0.700" stop-color="#fff" stop-opacity="0.034"/><stop offset="0.733" stop-color="#fff" stop-opacity="0.024"/><stop offset="0.767" stop-color="#fff" stop-opacity="0.017"/><stop offset="0.800" stop-color="#fff" stop-opacity="0.012"/><stop offset="0.833" stop-color="#fff" stop-opacity="0.008"/><stop offset="0.867" stop-color="#fff" stop-opacity="0.006"/><stop offset="0.900" stop-color="#fff" stop-opacity="0.004"/><stop offset="0.933" stop-color="#fff" stop-opacity="0.003"/><stop offset="0.967" stop-color="#fff" stop-opacity="0.002"/><stop offset="1.000" stop-color="#fff" stop-opacity="0.000"/></radialGradient><radialGradient id="g1"><stop offset="0.000" stop-color="#fff" stop-opacity="0.050"/><stop offset="0.033" stop-color="#fff" stop-opacity="0.050"/><stop offset="0.067" stop-color="#fff" stop-opacity="0.049"/><stop offset="0.100" stop-color="#fff" stop-opacity="0.047"/><stop offset="0.133" stop-color="#fff" stop-opacity="0.044"/><stop offset="0.167" stop-color="#fff" stop-opacity="0.041"/><stop offset="0.200" stop-color="#fff" stop-opacity="0.038"/><stop offset="0.233" stop-color="#fff" stop-opacity="0.035"/><stop offset="0.267" stop-color="#fff" stop-opacity="0.031"/><stop offset="0.300" stop-color="#fff" stop-opacity="0.027"/><stop offset="0.333" stop-color="#fff" stop-opacity="0.024"/><stop offset="0.367" stop-color="#fff" stop-opacity="0.020"/><stop offset="0.400" stop-color="#fff" stop-opacity="0.017"/><stop offset="0.433" stop-color="#fff" stop-opacity="0.014"/><stop offset="0.467" stop-color="#fff" stop-opacity="0.011"/><stop offset="0.500" stop-color="#fff" stop-opacity="0.009"/><stop offset="0.533" stop-color="#fff" stop-opacity="0.007"/><stop offset="0.567" stop-color="#fff" stop-opacity="0.006"/><stop offset="0.600" stop-color="#fff" stop-opacity="0.004"/><stop offset="0.633" stop-color="#fff" stop-opacity="0.003"/><stop offset="0.667" stop-color="#fff" stop-opacity="0.002"/><stop offset="0.700" stop-color="#fff" stop-opacity="0.002"/><stop offset="0.733" stop-color="#fff" stop-opacity="0.001"/><stop offset="0.767" stop-color="#fff" stop-opacity="0.001"/><stop offset="0.800" stop-color="#fff" stop-opacity="0.001"/><stop offset="0.833" stop-color="#fff" stop-opacity="0.000"/><stop offset="0.867" stop-color="#fff" stop-opacity="0.000"/><stop offset="0.900" stop-color="#fff" stop-opacity="0.000"/><stop offset="0.933" stop-color="#fff" stop-opacity="0.000"/><stop offset="0.967" stop-color="#fff" stop-opacity="0.000"/><stop offset="1.000" stop-color="#fff" stop-opacity="0.000"/></radialGradient><radialGradient id="g2"><stop offset="0.000" stop-color="#000" stop-opacity="0.950"/><stop offset="0.033" stop-color="#000" stop-opacity="0.943"/><stop offset="0.067" stop-color="#000" stop-opacity="0.922"/><stop offset="0.100" stop-color="#000" stop-opacity="0.888"/><stop offset="0.133" stop-color="#000" stop-opacity="0.842"/><stop offset="0.167" stop-color="#000" stop-opacity="0.787"/><stop offset="0.200" stop-color="#000" stop-opacity="0.725"/><stop offset="0.233" stop-color="#000" stop-opacity="0.657"/><stop offset="0.267" stop-color="#000" stop-opacity="0.587"/><stop offset="0.300" stop-color="#000" stop-opacity="0.517"/><stop offset="0.333" stop-color="#000" stop-opacity="0.448"/><stop offset="0.367" stop-color="#000" stop-opacity="0.383"/><stop offset="0.400" stop-color="#000" stop-opacity="0.322"/><stop offset="0.433" stop-color="#000" stop-opacity="0.267"/><stop offset="0.467" stop-color="#000" stop-opacity="0.218"/><stop offset="0.500" stop-color="#000" stop-opacity="0.175"/><stop offset="0.533" stop-color="#000" stop-opacity="0.139"/><stop offset="0.567" stop-color="#000" stop-opacity="0.108"/><stop offset="0.600" stop-color="#000" stop-opacity="0.083"/><stop offset="0.633" stop-color="#000" stop-opacity="0.063"/><stop offset="0.667" stop-color="#000" stop-opacity="0.047"/><stop offset="0.700" stop-color="#000" stop-opacity="0.035"/><stop offset="0.733" stop-color="#000" stop-opacity="0.025"/><stop offset="0.767" stop-color="#000" stop-opacity="0.018"/><stop offset="0.800" stop-color="#000" stop-opacity="0.013"/><stop offset="0.833" stop-color="#000" stop-opacity="0.009"/><stop offset="0.867" stop-color="#000" stop-opacity="0.006"/><stop offset="0.900" stop-color="#000" stop-opacity="0.004"/><stop offset="0.933" stop-color="#000" stop-opacity="0.003"/><stop offset="0.967" stop-color="#000" stop-opacity="0.002"/><stop offset="1.000" stop-color="#000" stop-opacity="0.000"/></radialGradient><filter id="bf0" x="-1.5" y="-2.5" width="4" height="6" color-interpolation-filters="sRGB"><feGaussianBlur stdDeviation="22 13"/><feComponentTransfer><feFuncA type="linear" slope="0.760"/></feComponentTransfer></filter><radialGradient id="g3"><stop offset="0.000" stop-color="#fff" stop-opacity="0.095"/><stop offset="0.033" stop-color="#fff" stop-opacity="0.094"/><stop offset="0.067" stop-color="#fff" stop-opacity="0.092"/><stop offset="0.100" stop-color="#fff" stop-opacity="0.089"/><stop offset="0.133" stop-color="#fff" stop-opacity="0.084"/><stop offset="0.167" stop-color="#fff" stop-opacity="0.079"/><stop offset="0.200" stop-color="#fff" stop-opacity="0.072"/><stop offset="0.233" stop-color="#fff" stop-opacity="0.066"/><stop offset="0.267" stop-color="#fff" stop-opacity="0.059"/><stop offset="0.300" stop-color="#fff" stop-opacity="0.052"/><stop offset="0.333" stop-color="#fff" stop-opacity="0.045"/><stop offset="0.367" stop-color="#fff" stop-opacity="0.038"/><stop offset="0.400" stop-color="#fff" stop-opacity="0.032"/><stop offset="0.433" stop-color="#fff" stop-opacity="0.027"/><stop offset="0.467" stop-color="#fff" stop-opacity="0.022"/><stop offset="0.500" stop-color="#fff" stop-opacity="0.018"/><stop offset="0.533" stop-color="#fff" stop-opacity="0.014"/><stop offset="0.567" stop-color="#fff" stop-opacity="0.011"/><stop offset="0.600" stop-color="#fff" stop-opacity="0.008"/><stop offset="0.633" stop-color="#fff" stop-opacity="0.006"/><stop offset="0.667" stop-color="#fff" stop-opacity="0.005"/><stop offset="0.700" stop-color="#fff" stop-opacity="0.003"/><stop offset="0.733" stop-color="#fff" stop-opacity="0.003"/><stop offset="0.767" stop-color="#fff" stop-opacity="0.002"/><stop offset="0.800" stop-color="#fff" stop-opacity="0.001"/><stop offset="0.833" stop-color="#fff" stop-opacity="0.001"/><stop offset="0.867" stop-color="#fff" stop-opacity="0.001"/><stop offset="0.900" stop-color="#fff" stop-opacity="0.000"/><stop offset="0.933" stop-color="#fff" stop-opacity="0.000"/><stop offset="0.967" stop-color="#fff" stop-opacity="0.000"/><stop offset="1.000" stop-color="#fff" stop-opacity="0.000"/></radialGradient><radialGradient id="g4"><stop offset="0.000" stop-color="#fff" stop-opacity="0.065"/><stop offset="0.033" stop-color="#fff" stop-opacity="0.065"/><stop offset="0.067" stop-color="#fff" stop-opacity="0.063"/><stop offset="0.100" stop-color="#fff" stop-opacity="0.061"/><stop offset="0.133" stop-color="#fff" stop-opacity="0.058"/><stop offset="0.167" stop-color="#fff" stop-opacity="0.054"/><stop offset="0.200" stop-color="#fff" stop-opacity="0.050"/><stop offset="0.233" stop-color="#fff" stop-opacity="0.045"/><stop offset="0.267" stop-color="#fff" stop-opacity="0.040"/><stop offset="0.300" stop-color="#fff" stop-opacity="0.035"/><stop offset="0.333" stop-color="#fff" stop-opacity="0.031"/><stop offset="0.367" stop-color="#fff" stop-opacity="0.026"/><stop offset="0.400" stop-color="#fff" stop-opacity="0.022"/><stop offset="0.433" stop-color="#fff" stop-opacity="0.018"/><stop offset="0.467" stop-color="#fff" stop-opacity="0.015"/><stop offset="0.500" stop-color="#fff" stop-opacity="0.012"/><stop offset="0.533" stop-color="#fff" stop-opacity="0.010"/><stop offset="0.567" stop-color="#fff" stop-opacity="0.007"/><stop offset="0.600" stop-color="#fff" stop-opacity="0.006"/><stop offset="0.633" stop-color="#fff" stop-opacity="0.004"/><stop offset="0.667" stop-color="#fff" stop-opacity="0.003"/><stop offset="0.700" stop-color="#fff" stop-opacity="0.002"/><stop offset="0.733" stop-color="#fff" stop-opacity="0.002"/><stop offset="0.767" stop-color="#fff" stop-opacity="0.001"/><stop offset="0.800" stop-color="#fff" stop-opacity="0.001"/><stop offset="0.833" stop-color="#fff" stop-opacity="0.001"/><stop offset="0.867" stop-color="#fff" stop-opacity="0.000"/><stop offset="0.900" stop-color="#fff" stop-opacity="0.000"/><stop offset="0.933" stop-color="#fff" stop-opacity="0.000"/><stop offset="0.967" stop-color="#fff" stop-opacity="0.000"/><stop offset="1.000" stop-color="#fff" stop-opacity="0.000"/></radialGradient><radialGradient id="g5"><stop offset="0.000" stop-color="#fff" stop-opacity="0.040"/><stop offset="0.033" stop-color="#fff" stop-opacity="0.040"/><stop offset="0.067" stop-color="#fff" stop-opacity="0.039"/><stop offset="0.100" stop-color="#fff" stop-opacity="0.037"/><stop offset="0.133" stop-color="#fff" stop-opacity="0.035"/><stop offset="0.167" stop-color="#fff" stop-opacity="0.033"/><stop offset="0.200" stop-color="#fff" stop-opacity="0.031"/><stop offset="0.233" stop-color="#fff" stop-opacity="0.028"/><stop offset="0.267" stop-color="#fff" stop-opacity="0.025"/><stop offset="0.300" stop-color="#fff" stop-opacity="0.022"/><stop offset="0.333" stop-color="#fff" stop-opacity="0.019"/><stop offset="0.367" stop-color="#fff" stop-opacity="0.016"/><stop offset="0.400" stop-color="#fff" stop-opacity="0.014"/><stop offset="0.433" stop-color="#fff" stop-opacity="0.011"/><stop offset="0.467" stop-color="#fff" stop-opacity="0.009"/><stop offset="0.500" stop-color="#fff" stop-opacity="0.007"/><stop offset="0.533" stop-color="#fff" stop-opacity="0.006"/><stop offset="0.567" stop-color="#fff" stop-opacity="0.005"/><stop offset="0.600" stop-color="#fff" stop-opacity="0.004"/><stop offset="0.633" stop-color="#fff" stop-opacity="0.003"/><stop offset="0.667" stop-color="#fff" stop-opacity="0.002"/><stop offset="0.700" stop-color="#fff" stop-opacity="0.001"/><stop offset="0.733" stop-color="#fff" stop-opacity="0.001"/><stop offset="0.767" stop-color="#fff" stop-opacity="0.001"/><stop offset="0.800" stop-color="#fff" stop-opacity="0.001"/><stop offset="0.833" stop-color="#fff" stop-opacity="0.000"/><stop offset="0.867" stop-color="#fff" stop-opacity="0.000"/><stop offset="0.900" stop-color="#fff" stop-opacity="0.000"/><stop offset="0.933" stop-color="#fff" stop-opacity="0.000"/><stop offset="0.967" stop-color="#fff" stop-opacity="0.000"/><stop offset="1.000" stop-color="#fff" stop-opacity="0.000"/></radialGradient><radialGradient id="g6"><stop offset="0.000" stop-color="#000" stop-opacity="0.450"/><stop offset="0.033" stop-color="#000" stop-opacity="0.447"/><stop offset="0.067" stop-color="#000" stop-opacity="0.437"/><stop offset="0.100" stop-color="#000" stop-opacity="0.421"/><stop offset="0.133" stop-color="#000" stop-opacity="0.399"/><stop offset="0.167" stop-color="#000" stop-opacity="0.373"/><stop offset="0.200" stop-color="#000" stop-opacity="0.343"/><stop offset="0.233" stop-color="#000" stop-opacity="0.311"/><stop offset="0.267" stop-color="#000" stop-opacity="0.278"/><stop offset="0.300" stop-color="#000" stop-opacity="0.245"/><stop offset="0.333" stop-color="#000" stop-opacity="0.212"/><stop offset="0.367" stop-color="#000" stop-opacity="0.181"/><stop offset="0.400" stop-color="#000" stop-opacity="0.153"/><stop offset="0.433" stop-color="#000" stop-opacity="0.126"/><stop offset="0.467" stop-color="#000" stop-opacity="0.103"/><stop offset="0.500" stop-color="#000" stop-opacity="0.083"/><stop offset="0.533" stop-color="#000" stop-opacity="0.066"/><stop offset="0.567" stop-color="#000" stop-opacity="0.051"/><stop offset="0.600" stop-color="#000" stop-opacity="0.039"/><stop offset="0.633" stop-color="#000" stop-opacity="0.030"/><stop offset="0.667" stop-color="#000" stop-opacity="0.022"/><stop offset="0.700" stop-color="#000" stop-opacity="0.016"/><stop offset="0.733" stop-color="#000" stop-opacity="0.012"/><stop offset="0.767" stop-color="#000" stop-opacity="0.008"/><stop offset="0.800" stop-color="#000" stop-opacity="0.006"/><stop offset="0.833" stop-color="#000" stop-opacity="0.004"/><stop offset="0.867" stop-color="#000" stop-opacity="0.003"/><stop offset="0.900" stop-color="#000" stop-opacity="0.002"/><stop offset="0.933" stop-color="#000" stop-opacity="0.001"/><stop offset="0.967" stop-color="#000" stop-opacity="0.001"/><stop offset="1.000" stop-color="#000" stop-opacity="0.000"/></radialGradient><filter id="bf1" x="-1.5" y="-2.5" width="4" height="6" color-interpolation-filters="sRGB"><feGaussianBlur stdDeviation="22 16.5"/><feComponentTransfer><feFuncA type="linear" slope="0.600"/></feComponentTransfer></filter><radialGradient id="g7"><stop offset="0.000" stop-color="#fff" stop-opacity="0.100"/><stop offset="0.033" stop-color="#fff" stop-opacity="0.099"/><stop offset="0.067" stop-color="#fff" stop-opacity="0.097"/><stop offset="0.100" stop-color="#fff" stop-opacity="0.093"/><stop offset="0.133" stop-color="#fff" stop-opacity="0.089"/><stop offset="0.167" stop-color="#fff" stop-opacity="0.083"/><stop offset="0.200" stop-color="#fff" stop-opacity="0.076"/><stop offset="0.233" stop-color="#fff" stop-opacity="0.069"/><stop offset="0.267" stop-color="#fff" stop-opacity="0.062"/><stop offset="0.300" stop-color="#fff" stop-opacity="0.054"/><stop offset="0.333" stop-color="#fff" stop-opacity="0.047"/><stop offset="0.367" stop-color="#fff" stop-opacity="0.040"/><stop offset="0.400" stop-color="#fff" stop-opacity="0.034"/><stop offset="0.433" stop-color="#fff" stop-opacity="0.028"/><stop offset="0.467" stop-color="#fff" stop-opacity="0.023"/><stop offset="0.500" stop-color="#fff" stop-opacity="0.018"/><stop offset="0.533" stop-color="#fff" stop-opacity="0.015"/><stop offset="0.567" stop-color="#fff" stop-opacity="0.011"/><stop offset="0.600" stop-color="#fff" stop-opacity="0.009"/><stop offset="0.633" stop-color="#fff" stop-opacity="0.007"/><stop offset="0.667" stop-color="#fff" stop-opacity="0.005"/><stop offset="0.700" stop-color="#fff" stop-opacity="0.004"/><stop offset="0.733" stop-color="#fff" stop-opacity="0.003"/><stop offset="0.767" stop-color="#fff" stop-opacity="0.002"/><stop offset="0.800" stop-color="#fff" stop-opacity="0.001"/><stop offset="0.833" stop-color="#fff" stop-opacity="0.001"/><stop offset="0.867" stop-color="#fff" stop-opacity="0.001"/><stop offset="0.900" stop-color="#fff" stop-opacity="0.000"/><stop offset="0.933" stop-color="#fff" stop-opacity="0.000"/><stop offset="0.967" stop-color="#fff" stop-opacity="0.000"/><stop offset="1.000" stop-color="#fff" stop-opacity="0.000"/></radialGradient><radialGradient id="g8"><stop offset="0.000" stop-color="#fff" stop-opacity="0.045"/><stop offset="0.033" stop-color="#fff" stop-opacity="0.045"/><stop offset="0.067" stop-color="#fff" stop-opacity="0.044"/><stop offset="0.100" stop-color="#fff" stop-opacity="0.042"/><stop offset="0.133" stop-color="#fff" stop-opacity="0.040"/><stop offset="0.167" stop-color="#fff" stop-opacity="0.037"/><stop offset="0.200" stop-color="#fff" stop-opacity="0.034"/><stop offset="0.233" stop-color="#fff" stop-opacity="0.031"/><stop offset="0.267" stop-color="#fff" stop-opacity="0.028"/><stop offset="0.300" stop-color="#fff" stop-opacity="0.024"/><stop offset="0.333" stop-color="#fff" stop-opacity="0.021"/><stop offset="0.367" stop-color="#fff" stop-opacity="0.018"/><stop offset="0.400" stop-color="#fff" stop-opacity="0.015"/><stop offset="0.433" stop-color="#fff" stop-opacity="0.013"/><stop offset="0.467" stop-color="#fff" stop-opacity="0.010"/><stop offset="0.500" stop-color="#fff" stop-opacity="0.008"/><stop offset="0.533" stop-color="#fff" stop-opacity="0.007"/><stop offset="0.567" stop-color="#fff" stop-opacity="0.005"/><stop offset="0.600" stop-color="#fff" stop-opacity="0.004"/><stop offset="0.633" stop-color="#fff" stop-opacity="0.003"/><stop offset="0.667" stop-color="#fff" stop-opacity="0.002"/><stop offset="0.700" stop-color="#fff" stop-opacity="0.002"/><stop offset="0.733" stop-color="#fff" stop-opacity="0.001"/><stop offset="0.767" stop-color="#fff" stop-opacity="0.001"/><stop offset="0.800" stop-color="#fff" stop-opacity="0.001"/><stop offset="0.833" stop-color="#fff" stop-opacity="0.000"/><stop offset="0.867" stop-color="#fff" stop-opacity="0.000"/><stop offset="0.900" stop-color="#fff" stop-opacity="0.000"/><stop offset="0.933" stop-color="#fff" stop-opacity="0.000"/><stop offset="0.967" stop-color="#fff" stop-opacity="0.000"/><stop offset="1.000" stop-color="#fff" stop-opacity="0.000"/></radialGradient><radialGradient id="g9"><stop offset="0.000" stop-color="#fff" stop-opacity="0.035"/><stop offset="0.033" stop-color="#fff" stop-opacity="0.035"/><stop offset="0.067" stop-color="#fff" stop-opacity="0.034"/><stop offset="0.100" stop-color="#fff" stop-opacity="0.033"/><stop offset="0.133" stop-color="#fff" stop-opacity="0.031"/><stop offset="0.167" stop-color="#fff" stop-opacity="0.029"/><stop offset="0.200" stop-color="#fff" stop-opacity="0.027"/><stop offset="0.233" stop-color="#fff" stop-opacity="0.024"/><stop offset="0.267" stop-color="#fff" stop-opacity="0.022"/><stop offset="0.300" stop-color="#fff" stop-opacity="0.019"/><stop offset="0.333" stop-color="#fff" stop-opacity="0.017"/><stop offset="0.367" stop-color="#fff" stop-opacity="0.014"/><stop offset="0.400" stop-color="#fff" stop-opacity="0.012"/><stop offset="0.433" stop-color="#fff" stop-opacity="0.010"/><stop offset="0.467" stop-color="#fff" stop-opacity="0.008"/><stop offset="0.500" stop-color="#fff" stop-opacity="0.006"/><stop offset="0.533" stop-color="#fff" stop-opacity="0.005"/><stop offset="0.567" stop-color="#fff" stop-opacity="0.004"/><stop offset="0.600" stop-color="#fff" stop-opacity="0.003"/><stop offset="0.633" stop-color="#fff" stop-opacity="0.002"/><stop offset="0.667" stop-color="#fff" stop-opacity="0.002"/><stop offset="0.700" stop-color="#fff" stop-opacity="0.001"/><stop offset="0.733" stop-color="#fff" stop-opacity="0.001"/><stop offset="0.767" stop-color="#fff" stop-opacity="0.001"/><stop offset="0.800" stop-color="#fff" stop-opacity="0.000"/><stop offset="0.833" stop-color="#fff" stop-opacity="0.000"/><stop offset="0.867" stop-color="#fff" stop-opacity="0.000"/><stop offset="0.900" stop-color="#fff" stop-opacity="0.000"/><stop offset="0.933" stop-color="#fff" stop-opacity="0.000"/><stop offset="0.967" stop-color="#fff" stop-opacity="0.000"/><stop offset="1.000" stop-color="#fff" stop-opacity="0.000"/></radialGradient><filter id="bf2" x="-1.5" y="-2.5" width="4" height="6" color-interpolation-filters="sRGB"><feGaussianBlur stdDeviation="9 6.5"/><feComponentTransfer><feFuncA type="linear" slope="0.122"/></feComponentTransfer></filter><filter id="bf3" x="-1.5" y="-2.5" width="4" height="6" color-interpolation-filters="sRGB"><feGaussianBlur stdDeviation="9 6"/><feComponentTransfer><feFuncA type="linear" slope="0.145"/></feComponentTransfer></filter><filter id="bf4" x="-1.5" y="-2.5" width="4" height="6" color-interpolation-filters="sRGB"><feGaussianBlur stdDeviation="27 20.5"/><feComponentTransfer><feFuncA type="linear" slope="1.000"/></feComponentTransfer></filter><radialGradient id="g10"><stop offset="0.000" stop-color="#fff" stop-opacity="0.915"/><stop offset="0.033" stop-color="#fff" stop-opacity="0.908"/><stop offset="0.067" stop-color="#fff" stop-opacity="0.888"/><stop offset="0.100" stop-color="#fff" stop-opacity="0.855"/><stop offset="0.133" stop-color="#fff" stop-opacity="0.811"/><stop offset="0.167" stop-color="#fff" stop-opacity="0.758"/><stop offset="0.200" stop-color="#fff" stop-opacity="0.698"/><stop offset="0.233" stop-color="#fff" stop-opacity="0.633"/><stop offset="0.267" stop-color="#fff" stop-opacity="0.566"/><stop offset="0.300" stop-color="#fff" stop-opacity="0.498"/><stop offset="0.333" stop-color="#fff" stop-opacity="0.432"/><stop offset="0.367" stop-color="#fff" stop-opacity="0.369"/><stop offset="0.400" stop-color="#fff" stop-opacity="0.310"/><stop offset="0.433" stop-color="#fff" stop-opacity="0.257"/><stop offset="0.467" stop-color="#fff" stop-opacity="0.210"/><stop offset="0.500" stop-color="#fff" stop-opacity="0.169"/><stop offset="0.533" stop-color="#fff" stop-opacity="0.134"/><stop offset="0.567" stop-color="#fff" stop-opacity="0.104"/><stop offset="0.600" stop-color="#fff" stop-opacity="0.080"/><stop offset="0.633" stop-color="#fff" stop-opacity="0.061"/><stop offset="0.667" stop-color="#fff" stop-opacity="0.045"/><stop offset="0.700" stop-color="#fff" stop-opacity="0.033"/><stop offset="0.733" stop-color="#fff" stop-opacity="0.024"/><stop offset="0.767" stop-color="#fff" stop-opacity="0.017"/><stop offset="0.800" stop-color="#fff" stop-opacity="0.012"/><stop offset="0.833" stop-color="#fff" stop-opacity="0.008"/><stop offset="0.867" stop-color="#fff" stop-opacity="0.006"/><stop offset="0.900" stop-color="#fff" stop-opacity="0.004"/><stop offset="0.933" stop-color="#fff" stop-opacity="0.003"/><stop offset="0.967" stop-color="#fff" stop-opacity="0.002"/><stop offset="1.000" stop-color="#fff" stop-opacity="0.000"/></radialGradient><radialGradient id="g11"><stop offset="0.000" stop-color="#fff" stop-opacity="0.030"/><stop offset="0.033" stop-color="#fff" stop-opacity="0.030"/><stop offset="0.067" stop-color="#fff" stop-opacity="0.029"/><stop offset="0.100" stop-color="#fff" stop-opacity="0.028"/><stop offset="0.133" stop-color="#fff" stop-opacity="0.027"/><stop offset="0.167" stop-color="#fff" stop-opacity="0.025"/><stop offset="0.200" stop-color="#fff" stop-opacity="0.023"/><stop offset="0.233" stop-color="#fff" stop-opacity="0.021"/><stop offset="0.267" stop-color="#fff" stop-opacity="0.019"/><stop offset="0.300" stop-color="#fff" stop-opacity="0.016"/><stop offset="0.333" stop-color="#fff" stop-opacity="0.014"/><stop offset="0.367" stop-color="#fff" stop-opacity="0.012"/><stop offset="0.400" stop-color="#fff" stop-opacity="0.010"/><stop offset="0.433" stop-color="#fff" stop-opacity="0.008"/><stop offset="0.467" stop-color="#fff" stop-opacity="0.007"/><stop offset="0.500" stop-color="#fff" stop-opacity="0.006"/><stop offset="0.533" stop-color="#fff" stop-opacity="0.004"/><stop offset="0.567" stop-color="#fff" stop-opacity="0.003"/><stop offset="0.600" stop-color="#fff" stop-opacity="0.003"/><stop offset="0.633" stop-color="#fff" stop-opacity="0.002"/><stop offset="0.667" stop-color="#fff" stop-opacity="0.001"/><stop offset="0.700" stop-color="#fff" stop-opacity="0.001"/><stop offset="0.733" stop-color="#fff" stop-opacity="0.001"/><stop offset="0.767" stop-color="#fff" stop-opacity="0.001"/><stop offset="0.800" stop-color="#fff" stop-opacity="0.000"/><stop offset="0.833" stop-color="#fff" stop-opacity="0.000"/><stop offset="0.867" stop-color="#fff" stop-opacity="0.000"/><stop offset="0.900" stop-color="#fff" stop-opacity="0.000"/><stop offset="0.933" stop-color="#fff" stop-opacity="0.000"/><stop offset="0.967" stop-color="#fff" stop-opacity="0.000"/><stop offset="1.000" stop-color="#fff" stop-opacity="0.000"/></radialGradient><radialGradient id="g12"><stop offset="0.000" stop-color="#fff" stop-opacity="0.515"/><stop offset="0.033" stop-color="#fff" stop-opacity="0.511"/><stop offset="0.067" stop-color="#fff" stop-opacity="0.500"/><stop offset="0.100" stop-color="#fff" stop-opacity="0.481"/><stop offset="0.133" stop-color="#fff" stop-opacity="0.457"/><stop offset="0.167" stop-color="#fff" stop-opacity="0.427"/><stop offset="0.200" stop-color="#fff" stop-opacity="0.393"/><stop offset="0.233" stop-color="#fff" stop-opacity="0.356"/><stop offset="0.267" stop-color="#fff" stop-opacity="0.318"/><stop offset="0.300" stop-color="#fff" stop-opacity="0.280"/><stop offset="0.333" stop-color="#fff" stop-opacity="0.243"/><stop offset="0.367" stop-color="#fff" stop-opacity="0.208"/><stop offset="0.400" stop-color="#fff" stop-opacity="0.175"/><stop offset="0.433" stop-color="#fff" stop-opacity="0.145"/><stop offset="0.467" stop-color="#fff" stop-opacity="0.118"/><stop offset="0.500" stop-color="#fff" stop-opacity="0.095"/><stop offset="0.533" stop-color="#fff" stop-opacity="0.075"/><stop offset="0.567" stop-color="#fff" stop-opacity="0.059"/><stop offset="0.600" stop-color="#fff" stop-opacity="0.045"/><stop offset="0.633" stop-color="#fff" stop-opacity="0.034"/><stop offset="0.667" stop-color="#fff" stop-opacity="0.026"/><stop offset="0.700" stop-color="#fff" stop-opacity="0.019"/><stop offset="0.733" stop-color="#fff" stop-opacity="0.014"/><stop offset="0.767" stop-color="#fff" stop-opacity="0.010"/><stop offset="0.800" stop-color="#fff" stop-opacity="0.007"/><stop offset="0.833" stop-color="#fff" stop-opacity="0.005"/><stop offset="0.867" stop-color="#fff" stop-opacity="0.003"/><stop offset="0.900" stop-color="#fff" stop-opacity="0.002"/><stop offset="0.933" stop-color="#fff" stop-opacity="0.001"/><stop offset="0.967" stop-color="#fff" stop-opacity="0.001"/><stop offset="1.000" stop-color="#fff" stop-opacity="0.000"/></radialGradient><radialGradient id="g13"><stop offset="0.000" stop-color="#fff" stop-opacity="0.062"/><stop offset="0.033" stop-color="#fff" stop-opacity="0.062"/><stop offset="0.067" stop-color="#fff" stop-opacity="0.061"/><stop offset="0.100" stop-color="#fff" stop-opacity="0.058"/><stop offset="0.133" stop-color="#fff" stop-opacity="0.055"/><stop offset="0.167" stop-color="#fff" stop-opacity="0.052"/><stop offset="0.200" stop-color="#fff" stop-opacity="0.048"/><stop offset="0.233" stop-color="#fff" stop-opacity="0.043"/><stop offset="0.267" stop-color="#fff" stop-opacity="0.039"/><stop offset="0.300" stop-color="#fff" stop-opacity="0.034"/><stop offset="0.333" stop-color="#fff" stop-opacity="0.029"/><stop offset="0.367" stop-color="#fff" stop-opacity="0.025"/><stop offset="0.400" stop-color="#fff" stop-opacity="0.021"/><stop offset="0.433" stop-color="#fff" stop-opacity="0.018"/><stop offset="0.467" stop-color="#fff" stop-opacity="0.014"/><stop offset="0.500" stop-color="#fff" stop-opacity="0.012"/><stop offset="0.533" stop-color="#fff" stop-opacity="0.009"/><stop offset="0.567" stop-color="#fff" stop-opacity="0.007"/><stop offset="0.600" stop-color="#fff" stop-opacity="0.005"/><stop offset="0.633" stop-color="#fff" stop-opacity="0.004"/><stop offset="0.667" stop-color="#fff" stop-opacity="0.003"/><stop offset="0.700" stop-color="#fff" stop-opacity="0.002"/><stop offset="0.733" stop-color="#fff" stop-opacity="0.002"/><stop offset="0.767" stop-color="#fff" stop-opacity="0.001"/><stop offset="0.800" stop-color="#fff" stop-opacity="0.001"/><stop offset="0.833" stop-color="#fff" stop-opacity="0.001"/><stop offset="0.867" stop-color="#fff" stop-opacity="0.000"/><stop offset="0.900" stop-color="#fff" stop-opacity="0.000"/><stop offset="0.933" stop-color="#fff" stop-opacity="0.000"/><stop offset="0.967" stop-color="#fff" stop-opacity="0.000"/><stop offset="1.000" stop-color="#fff" stop-opacity="0.000"/></radialGradient><radialGradient id="g14"><stop offset="0.000" stop-color="#000" stop-opacity="0.900"/><stop offset="0.033" stop-color="#000" stop-opacity="0.893"/><stop offset="0.067" stop-color="#000" stop-opacity="0.873"/><stop offset="0.100" stop-color="#000" stop-opacity="0.841"/><stop offset="0.133" stop-color="#000" stop-opacity="0.798"/><stop offset="0.167" stop-color="#000" stop-opacity="0.746"/><stop offset="0.200" stop-color="#000" stop-opacity="0.687"/><stop offset="0.233" stop-color="#000" stop-opacity="0.623"/><stop offset="0.267" stop-color="#000" stop-opacity="0.557"/><stop offset="0.300" stop-color="#000" stop-opacity="0.490"/><stop offset="0.333" stop-color="#000" stop-opacity="0.425"/><stop offset="0.367" stop-color="#000" stop-opacity="0.363"/><stop offset="0.400" stop-color="#000" stop-opacity="0.305"/><stop offset="0.433" stop-color="#000" stop-opacity="0.253"/><stop offset="0.467" stop-color="#000" stop-opacity="0.206"/><stop offset="0.500" stop-color="#000" stop-opacity="0.166"/><stop offset="0.533" stop-color="#000" stop-opacity="0.132"/><stop offset="0.567" stop-color="#000" stop-opacity="0.103"/><stop offset="0.600" stop-color="#000" stop-opacity="0.079"/><stop offset="0.633" stop-color="#000" stop-opacity="0.060"/><stop offset="0.667" stop-color="#000" stop-opacity="0.045"/><stop offset="0.700" stop-color="#000" stop-opacity="0.033"/><stop offset="0.733" stop-color="#000" stop-opacity="0.024"/><stop offset="0.767" stop-color="#000" stop-opacity="0.017"/><stop offset="0.800" stop-color="#000" stop-opacity="0.012"/><stop offset="0.833" stop-color="#000" stop-opacity="0.008"/><stop offset="0.867" stop-color="#000" stop-opacity="0.006"/><stop offset="0.900" stop-color="#000" stop-opacity="0.004"/><stop offset="0.933" stop-color="#000" stop-opacity="0.002"/><stop offset="0.967" stop-color="#000" stop-opacity="0.002"/><stop offset="1.000" stop-color="#000" stop-opacity="0.000"/></radialGradient><filter id="bf5" x="-1.5" y="-2.5" width="4" height="6" color-interpolation-filters="sRGB"><feGaussianBlur stdDeviation="22 9"/><feComponentTransfer><feFuncA type="linear" slope="0.125"/></feComponentTransfer></filter><radialGradient id="g15"><stop offset="0.000" stop-color="#fff" stop-opacity="0.055"/><stop offset="0.033" stop-color="#fff" stop-opacity="0.055"/><stop offset="0.067" stop-color="#fff" stop-opacity="0.053"/><stop offset="0.100" stop-color="#fff" stop-opacity="0.051"/><stop offset="0.133" stop-color="#fff" stop-opacity="0.049"/><stop offset="0.167" stop-color="#fff" stop-opacity="0.046"/><stop offset="0.200" stop-color="#fff" stop-opacity="0.042"/><stop offset="0.233" stop-color="#fff" stop-opacity="0.038"/><stop offset="0.267" stop-color="#fff" stop-opacity="0.034"/><stop offset="0.300" stop-color="#fff" stop-opacity="0.030"/><stop offset="0.333" stop-color="#fff" stop-opacity="0.026"/><stop offset="0.367" stop-color="#fff" stop-opacity="0.022"/><stop offset="0.400" stop-color="#fff" stop-opacity="0.019"/><stop offset="0.433" stop-color="#fff" stop-opacity="0.015"/><stop offset="0.467" stop-color="#fff" stop-opacity="0.013"/><stop offset="0.500" stop-color="#fff" stop-opacity="0.010"/><stop offset="0.533" stop-color="#fff" stop-opacity="0.008"/><stop offset="0.567" stop-color="#fff" stop-opacity="0.006"/><stop offset="0.600" stop-color="#fff" stop-opacity="0.005"/><stop offset="0.633" stop-color="#fff" stop-opacity="0.004"/><stop offset="0.667" stop-color="#fff" stop-opacity="0.003"/><stop offset="0.700" stop-color="#fff" stop-opacity="0.002"/><stop offset="0.733" stop-color="#fff" stop-opacity="0.001"/><stop offset="0.767" stop-color="#fff" stop-opacity="0.001"/><stop offset="0.800" stop-color="#fff" stop-opacity="0.001"/><stop offset="0.833" stop-color="#fff" stop-opacity="0.001"/><stop offset="0.867" stop-color="#fff" stop-opacity="0.000"/><stop offset="0.900" stop-color="#fff" stop-opacity="0.000"/><stop offset="0.933" stop-color="#fff" stop-opacity="0.000"/><stop offset="0.967" stop-color="#fff" stop-opacity="0.000"/><stop offset="1.000" stop-color="#fff" stop-opacity="0.000"/></radialGradient></defs>
</svg></div></body></html>
